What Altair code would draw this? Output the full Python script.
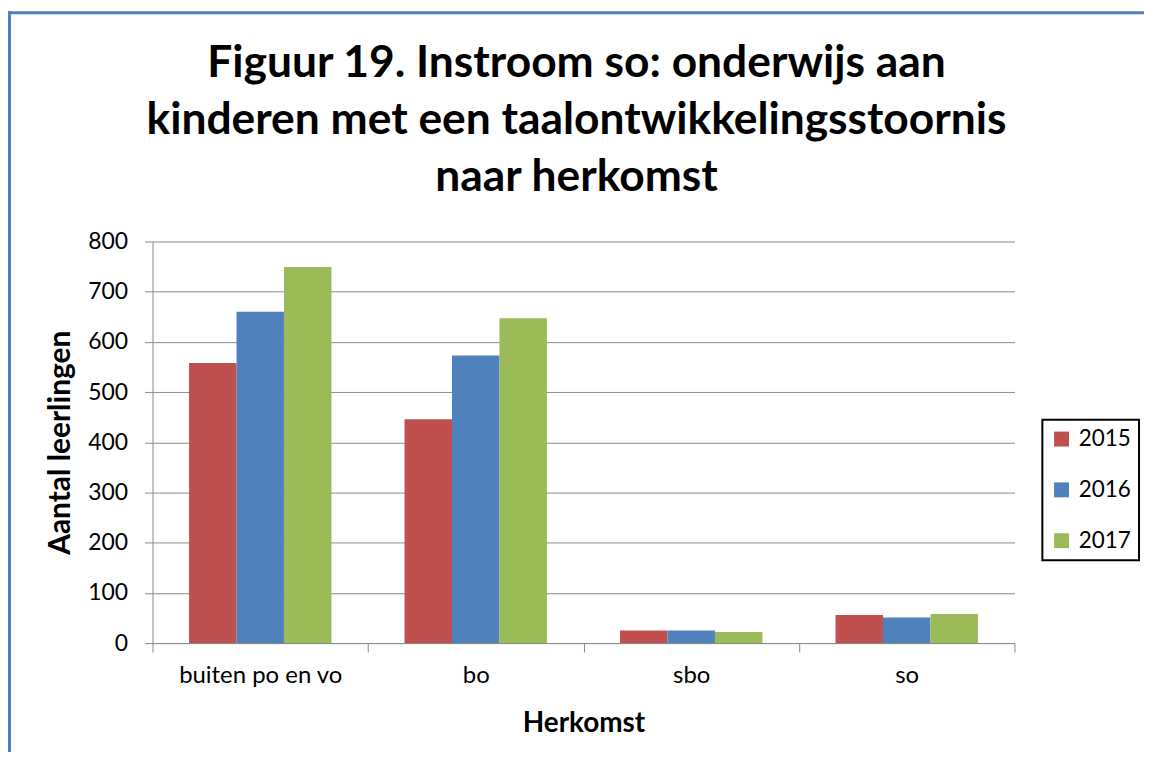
import altair as alt
import pandas as pd

categories = ["buiten po en vo", "bo", "sbo", "so"]
years = ["2015", "2016", "2017"]
v2015 = [558, 446, 25, 56]
v2016 = [660, 573, 25, 51]
v2017 = [749, 647, 22, 58]
colors = ["#C0504D", "#4F81BD", "#9BBB59"]
y_ticks = [0, 100, 200, 300, 400, 500, 600, 700, 800]
title_lines = [
    "Figuur 19. Instroom so: onderwijs aan",
    "kinderen met een taalontwikkelingsstoornis",
    "naar herkomst",
]

rows = []
for yr, vals in zip(years, [v2015, v2016, v2017]):
    for c, v in zip(categories, vals):
        rows.append({"Herkomst": c, "Jaar": yr, "Aantal": v})
df = pd.DataFrame(rows)

W, H = 865, 403
FONT = "Lato"
GRAY = "#8a8a8a"
FRAME = "#4F81BD"

bars = alt.Chart(df).mark_bar().encode(
    x=alt.X(
        "Herkomst:N",
        sort=categories,
        scale=alt.Scale(paddingInner=0, paddingOuter=0),
        axis=alt.Axis(
            title="Herkomst",
            labelAngle=0,
            tickBand="extent",
            grid=False,
            tickSize=9,
            labelPadding=12,
            titlePadding=22,
            labelFontSize=24,
            titleFontSize=28,
        ),
    ),
    xOffset=alt.XOffset(
        "Jaar:N", sort=years, scale=alt.Scale(paddingInner=0, paddingOuter=0.77)
    ),
    y=alt.Y(
        "Aantal:Q",
        scale=alt.Scale(domain=[0, 800]),
        axis=alt.Axis(
            title="Aantal leerlingen",
            values=y_ticks,
            grid=True,
            tickSize=8,
            labelPadding=17,
            titlePadding=12,
            labelFontSize=23,
            titleFontSize=30,
        ),
    ),
    color=alt.Color(
        "Jaar:N",
        sort=years,
        scale=alt.Scale(domain=years, range=colors),
        legend=alt.Legend(
            title=None,
            orient="none",
            legendX=893,
            legendY=179,
            padding=8,
            strokeColor="black",
            fillColor="white",
            symbolType="square",
            symbolSize=225,
            symbolStrokeWidth=0,
            labelFontSize=22.5,
            labelOffset=6,
            rowPadding=28,
        ),
    ),
)

one = pd.DataFrame({"a": [1]})
frame_top = alt.Chart(one).mark_rule(color=FRAME, strokeWidth=3).encode(
    x=alt.value(-145), x2=alt.value(1000), y=alt.value(-229.5)
)
frame_left = alt.Chart(one).mark_rule(color=FRAME, strokeWidth=3).encode(
    x=alt.value(-143.5), y=alt.value(-231), y2=alt.value(540)
)

chart = (
    alt.layer(bars, frame_top, frame_left)
    .properties(
        width=W,
        height=H,
        autosize=alt.AutoSizeParams(type="none"),
        padding={"left": 145, "top": 233, "right": 130, "bottom": 108},
        title=alt.TitleParams(
            text=title_lines,
            font=FONT,
            fontSize=44.5,
            fontWeight="bold",
            color="black",
            lineHeight=57.5,
            anchor="middle",
            frame="group",
            offset=-191.5,
            dx=-7,
        ),
    )
    .configure(font=FONT)
    .configure_view(stroke=None)
    .configure_axis(
        domainColor=GRAY,
        tickColor=GRAY,
        gridColor=GRAY,
        labelColor="black",
        titleColor="black",
        labelFont=FONT,
        titleFont=FONT,
        titleFontWeight="bold",
    )
    .configure_legend(labelFont=FONT, labelColor="black", strokeWidth=2)
)

chart.save("out.html", embed_options={"renderer": "svg", "actions": False})
